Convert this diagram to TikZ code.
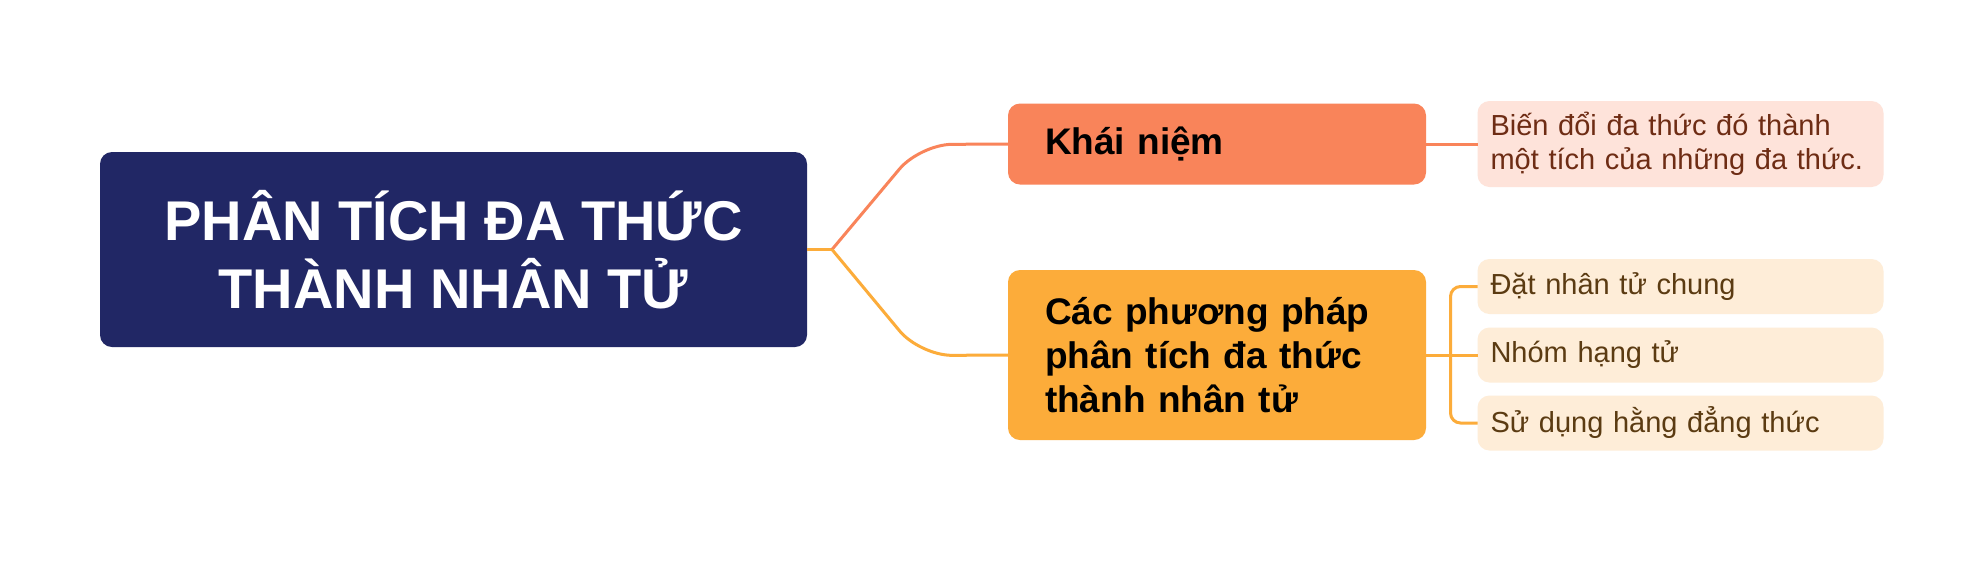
\documentclass[tikz,border=0pt]{standalone}
\usepackage{fontspec}
\setmainfont{Liberation Sans}
\usetikzlibrary{positioning}
\definecolor{rootblue}{HTML}{212765}
\definecolor{salmon}{HTML}{F9845A}
\definecolor{amber}{HTML}{FCAC3A}
\definecolor{pinklight}{HTML}{FEE3DA}
\definecolor{creamlight}{HTML}{FEEDD8}
\definecolor{pinktext}{HTML}{6E2C14}
\definecolor{creamtext}{HTML}{5B3B12}

\begin{document}
\begin{tikzpicture}[
    x = 0.5pt, y = -0.5pt,
    box/.style = {
      rounded corners = 6pt,
      inner ysep = 0pt, outer sep = 0pt,
      align = left,
    },
    root/.style = {
      box, fill = rootblue, text = white, align = center,
      minimum width = 353.5pt, minimum height = 97.5pt,
      font = \bfseries\fontsize{28}{34}\selectfont,
    },
    topic/.style = {
      box, text width = 172pt, inner xsep = 18.5pt,
      font = \bfseries\fontsize{18.5}{22}\selectfont,
    },
    leaf/.style = {
      box, text width = 190pt, inner xsep = 6.5pt,
      font = \fontsize{14.5}{17}\selectfont,
    },
    link/.style = {line width = 1.5pt},
  ]
  \fill[white] (0,0) rectangle (1984,564);
  % main idea
  \node[root] (phantich) at (453.5,249.5) {PHÂN TÍCH ĐA THỨC\\THÀNH NHÂN TỬ};
  % branches
  \node[topic, fill = salmon, minimum height = 40.5pt] (khainiem) at (1217,144) {Khái niệm};
  \node[topic, fill = amber, minimum height = 85pt] (phuongphap) at (1217,355)
    {Các phương pháp\\phân tích đa thức\\thành nhân tử};
  % leaves
  \node[leaf, fill = pinklight, text = pinktext, minimum height = 43pt] (bien) at (1680.5,144)
    {Biến đổi đa thức đó thành\\một tích của những đa thức.};
  \node[leaf, fill = creamlight, text = creamtext, minimum height = 27.5pt] (dat) at (1680.5,286.5)
    {Đặt nhân tử chung};
  \node[leaf, fill = creamlight, text = creamtext, minimum height = 27.5pt] (nhom) at (1680.5,355)
    {Nhóm hạng tử};
  \node[leaf, fill = creamlight, text = creamtext, minimum height = 27.5pt] (sudung) at (1680.5,423)
    {Sử dụng hằng đẳng thức};
  % connectors
  \draw[link, amber] (phantich.east) -- ++(25,0) coordinate (split);
  \draw[link, salmon, rounded corners = 16pt] (split) -- ++(88,-105) -- (khainiem.west);
  \draw[link, amber, rounded corners = 16pt] (split) -- ++(88,106) -- (phuongphap.west);
  \draw[link, salmon] (khainiem.east) -- (bien.west);
  \draw[link, amber] (phuongphap.east) -- (nhom.west);
  \draw[link, amber, rounded corners = 5pt]
    (dat.west) -- ++(-27,0) coordinate (bracket) -- (bracket |- sudung.west) -- (sudung.west);
\end{tikzpicture}
\end{document}
